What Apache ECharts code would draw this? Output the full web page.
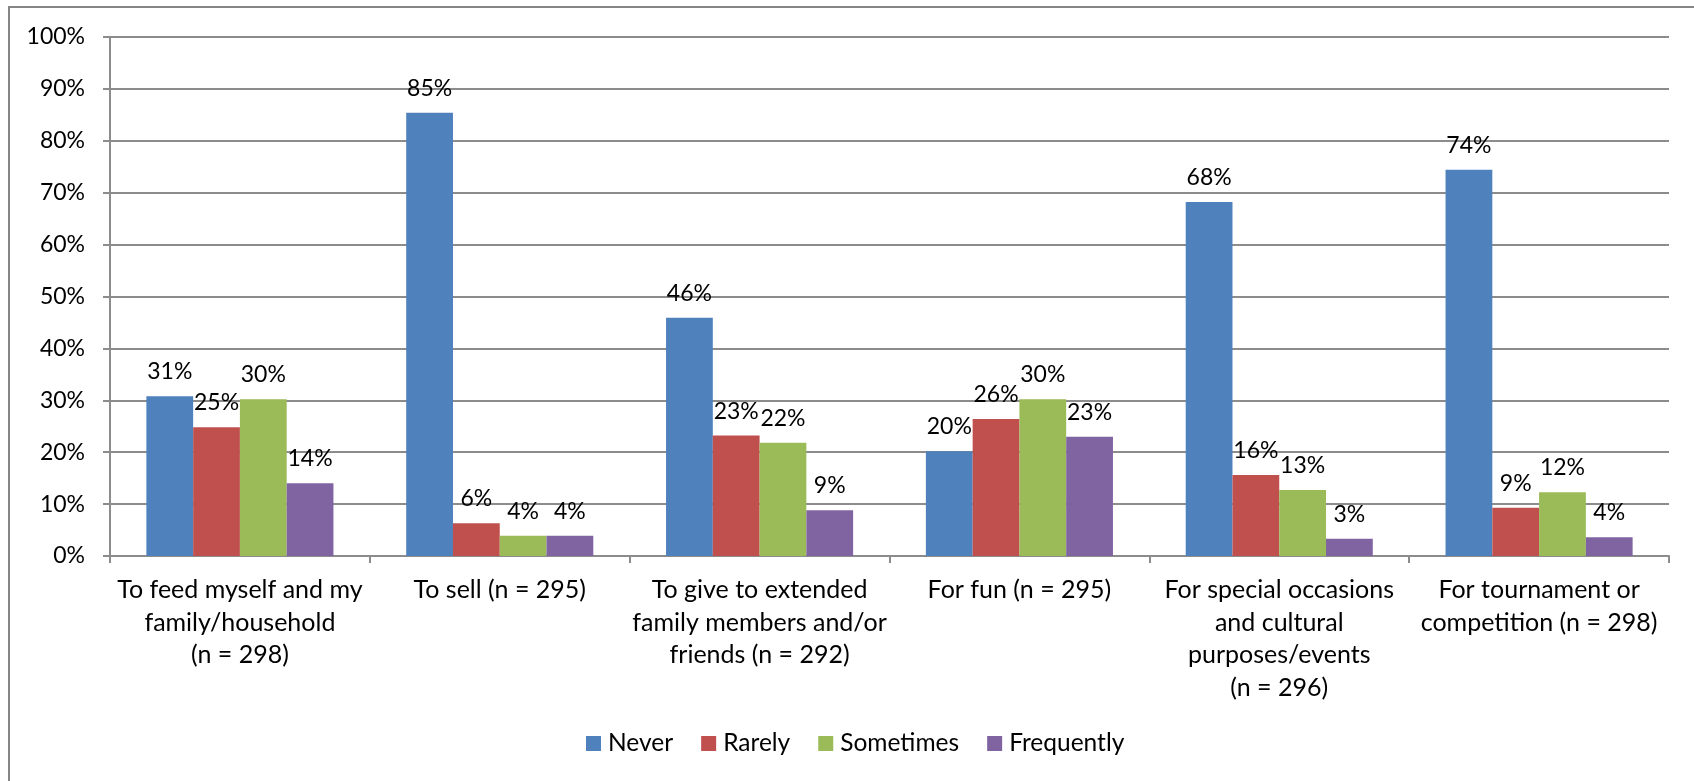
<!DOCTYPE html>
<html>
<head>
<meta charset="utf-8">
<script src="https://cdn.jsdelivr.net/npm/echarts@6/dist/echarts.min.js"></script>
<style>
html,body{margin:0;padding:0;background:#fff;}
#chart{width:1694px;height:781px;}
</style>
</head>
<body>
<div id="chart"></div>
<script>
var categories = [
  "To feed myself and my\nfamily/household\n(n = 298)",
  "To sell (n = 295)",
  "To give to extended\nfamily members and/or\nfriends (n = 292)",
  "For fun (n = 295)",
  "For special occasions\nand cultural\npurposes/events\n(n = 296)",
  "For tournament or\ncompetition (n = 298)"
];
var seriesNames = ["Never", "Rarely", "Sometimes", "Frequently"];
var never      = [30.8, 85.4, 45.9, 20.2, 68.2, 74.4];
var rarely     = [24.8, 6.3, 23.2, 26.4, 15.6, 9.3];
var sometimes  = [30.2, 3.9, 21.8, 30.2, 12.7, 12.3];
var frequently = [14.0, 3.9, 8.8, 23.0, 3.3, 3.6];
var yTicks = [0, 10, 20, 30, 40, 50, 60, 70, 80, 90, 100];

var colors = ["#4F81BD", "#C0504D", "#9BBB59", "#8064A2"];
var FONT = "Lato";
var chart = echarts.init(document.getElementById('chart'));
var values = [never, rarely, sometimes, frequently];

var series = seriesNames.map(function (name, i) {
  return {
    name: name,
    type: 'bar',
    data: values[i],
    barGap: '0%',
    barCategoryGap: '28%',
    itemStyle: { color: colors[i] },
    label: {
      show: true,
      position: 'top',
      distance: 13,
      color: '#000',
      fontFamily: FONT,
      fontSize: 23,
      formatter: function (p) { return Math.round(p.value) + '%'; }
    }
  };
});

chart.setOption({
  animation: false,
  backgroundColor: '#fff',
  graphic: [{
    type: 'rect',
    shape: { x: 9, y: 7, width: 1700, height: 800 },
    style: { fill: 'none', stroke: '#868686', lineWidth: 2 }
  }],
  grid: { left: 110, right: 25, top: 37, bottom: 225 },
  legend: {
    data: seriesNames,
    left: 586,
    top: 731,
    padding: 0,
    itemWidth: 15,
    itemHeight: 15,
    itemGap: 28,
    icon: 'rect',
    textStyle: { fontFamily: FONT, fontSize: 24.5, color: '#000', padding: [0, 0, 0, 2] }
  },
  xAxis: {
    type: 'category',
    data: categories,
    axisLine: { lineStyle: { color: '#8c8c8c', width: 2 } },
    axisTick: { show: true, length: 7, alignWithLabel: false, lineStyle: { color: '#8c8c8c', width: 2 } },
    axisLabel: {
      interval: 0,
      margin: 18,
      color: '#000',
      fontFamily: FONT,
      fontSize: 25,
      lineHeight: 32.5,
      align: 'center'
    }
  },
  yAxis: {
    type: 'value',
    min: yTicks[0],
    max: yTicks[yTicks.length - 1],
    interval: 10,
    axisLine: { show: true, lineStyle: { color: '#8c8c8c', width: 2 } },
    axisTick: { show: true, length: 7, lineStyle: { color: '#8c8c8c', width: 2 } },
    splitLine: { lineStyle: { color: '#8c8c8c', width: 2 } },
    axisLabel: {
      margin: 25,
      color: '#000',
      fontFamily: FONT,
      fontSize: 23,
      formatter: function (v) { return v + '%'; }
    }
  },
  series: series
});
</script>
</body>
</html>
